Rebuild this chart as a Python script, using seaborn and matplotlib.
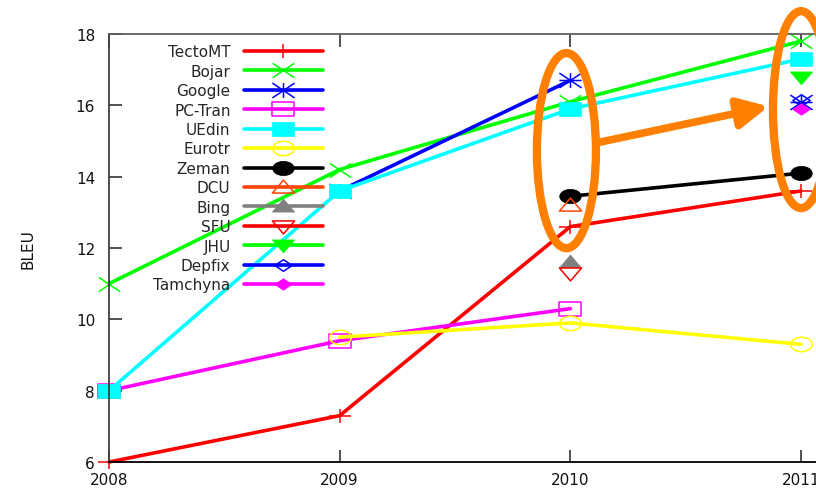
import numpy as np
import matplotlib
matplotlib.use("Agg")
import matplotlib.pyplot as plt
from matplotlib.path import Path
from matplotlib.patches import Ellipse
from matplotlib.transforms import Affine2D
import seaborn as sns

# ---- BLEU scores per system and evaluation year ----
tectomt_years = [2008, 2009, 2010, 2011]
tectomt_bleu = [6.0, 7.3, 12.6, 13.6]
bojar_years = [2008, 2009, 2010, 2011]
bojar_bleu = [11.0, 14.2, 16.1, 17.8]
google_years = [2009, 2010]
google_bleu = [13.6, 16.7]
google_2011_bleu = 16.1          # separate run, not joined to 2010
pctran_years = [2008, 2009, 2010]
pctran_bleu = [8.0, 9.4, 10.3]
uedin_years = [2008, 2009, 2010, 2011]
uedin_bleu = [8.0, 13.6, 15.9, 17.3]
eurotr_years = [2009, 2010, 2011]
eurotr_bleu = [9.5, 9.9, 9.3]
zeman_years = [2010, 2011]
zeman_bleu = [13.45, 14.1]
dcu_years = [2010]
dcu_bleu = [13.2]
bing_years = [2010]
bing_bleu = [11.6]
sfu_years = [2010]
sfu_bleu = [11.3]
jhu_years = [2011]
jhu_bleu = [16.8]
depfix_years = [2011]
depfix_bleu = [16.15]
tamchyna_years = [2011]
tamchyna_bleu = [15.9]

year_ticks = [2008, 2009, 2010, 2011]
bleu_ticks = [6, 8, 10, 12, 14, 16, 18]

# ---- gnuplot-like point shapes (slightly wide) ----
SX = 1.5


def _closed(verts):
    v = np.array(verts + [verts[0]], dtype=float) * [SX, 1]
    codes = [Path.MOVETO] + [Path.LINETO] * (len(verts) - 1) + [Path.CLOSEPOLY]
    return Path(v, codes)


def _segments(segs):
    v, c = [], []
    for a, b in segs:
        v += [a, b]
        c += [Path.MOVETO, Path.LINETO]
    return Path(np.array(v, dtype=float) * [SX, 1], c)


M_PLUS = _segments([((-1, 0), (1, 0)), ((0, -1), (0, 1))])
M_CROSS = _segments([((-1, -1), (1, 1)), ((-1, 1), (1, -1))])
M_STAR = _segments([((-1, 0), (1, 0)), ((0, -1), (0, 1)),
                    ((-1, -1), (1, 1)), ((-1, 1), (1, -1))])
M_SQUARE = _closed([(-1, -1), (1, -1), (1, 1), (-1, 1)])
M_CIRCLE = Affine2D().scale(SX, 1).transform_path(Path.unit_circle())
M_TRI_UP = _closed([(0, 1), (-1, -0.75), (1, -0.75)])
M_TRI_DN = _closed([(0, -1), (1, 0.75), (-1, 0.75)])
M_DIAMOND = _closed([(0, 1), (1, 0), (0, -1), (-1, 0)])

series = [
    ("TectoMT", tectomt_years, tectomt_bleu, "#ff0000", M_PLUS, False, 15.5),
    ("Bojar", bojar_years, bojar_bleu, "#00ff00", M_CROSS, False, 15.5),
    ("Google", google_years, google_bleu, "#0000ff", M_STAR, False, 16),
    ("PC-Tran", pctran_years, pctran_bleu, "#ff00ff", M_SQUARE, False, 15.5),
    ("UEdin", uedin_years, uedin_bleu, "#00ffff", M_SQUARE, True, 15.5),
    ("Eurotr", eurotr_years, eurotr_bleu, "#ffff00", M_CIRCLE, False, 15.5),
    ("Zeman", zeman_years, zeman_bleu, "#000000", M_CIRCLE, True, 15.5),
    ("DCU", dcu_years, dcu_bleu, "#ff4500", M_TRI_UP, False, 16),
    ("Bing", bing_years, bing_bleu, "#808080", M_TRI_UP, True, 16),
    ("SFU", sfu_years, sfu_bleu, "#ff0000", M_TRI_DN, False, 16),
    ("JHU", jhu_years, jhu_bleu, "#00ff00", M_TRI_DN, True, 16),
    ("Depfix", depfix_years, depfix_bleu, "#0000ff", M_DIAMOND, False, 12.5),
    ("Tamchyna", tamchyna_years, tamchyna_bleu, "#ff00ff", M_DIAMOND, True, 12.5),
]

sns.set_style("white")
plt.rcParams["font.family"] = ["DejaVu Sans"]
plt.rcParams["font.size"] = 11

fig = plt.figure(figsize=(8.16, 4.89), dpi=100)
ax = fig.add_axes([109 / 816, 26 / 489, 707 / 816, 428 / 489])

for name, xs, ys, color, marker, filled, ms in series:
    sns.lineplot(
        x=xs, y=ys, ax=ax, color=color, lw=2.6, label=name,
        marker=marker, markersize=ms,
        markerfacecolor=color if filled else "none",
        markeredgecolor=color, markeredgewidth=1.1 if not filled else 0.5,
        errorbar=None, clip_on=False, sort=False,
    )
    if name == "Google":
        sns.lineplot(
            x=[2011], y=[google_2011_bleu], ax=ax, color=color, lw=2.6,
            marker=marker, markersize=ms, markerfacecolor="none",
            markeredgecolor=color, markeredgewidth=1.1,
            errorbar=None, clip_on=False, legend=False,
        )

ax.set_xlim(2008, 2008 + 707 / 230.67)
ax.set_ylim(6, 18)
ax.set_xticks(year_ticks)
ax.set_xticklabels([str(y) for y in year_ticks])
ax.set_yticks(bleu_ticks)
ax.set_yticklabels([str(v) for v in bleu_ticks])
ax.tick_params(axis="both", direction="in", length=9, width=1.2,
               labelsize=11, colors="#333333", labelcolor="#111111")
ax.tick_params(axis="x", bottom=True, top=True, pad=7)
ax.tick_params(axis="y", left=True, right=False, pad=10)
ax.set_xlabel("")
ax.set_ylabel("BLEU", fontsize=11, color="#111111")
ax.yaxis.set_label_coords(-0.104, 0.5)

for side, col in [("left", "#404040"), ("bottom", "#000000"), ("top", "#606060")]:
    ax.spines[side].set_color(col)
    ax.spines[side].set_linewidth(1.3)
ax.spines["right"].set_visible(False)

handles, labels = ax.get_legend_handles_labels()
ax.legend(handles, labels, loc="upper right", bbox_to_anchor=(0.3027, 0.976),
          frameon=False, markerfirst=False, borderpad=0, borderaxespad=0,
          handlelength=5.2, handletextpad=0.85, labelspacing=0.29,
          fontsize=11, numpoints=1)

# ---- highlight: 2010 group, 2011 group and an arrow between them ----
orange = "#ff8000"
ax.add_patch(Ellipse((2009.983, 14.73), width=0.256, height=5.47, fill=False,
                     ec=orange, lw=6, zorder=10, clip_on=False))
ax.add_patch(Ellipse((2011.0, 15.88), width=0.243, height=5.52, fill=False,
                     ec=orange, lw=6, zorder=10, clip_on=False))
ax.annotate("", xy=(2010.86, 15.97), xytext=(2010.13, 14.97),
            arrowprops=dict(arrowstyle="-|>,head_length=0.9,head_width=0.45",
                            mutation_scale=20, lw=5.5, color=orange,
                            shrinkA=0, shrinkB=0),
            zorder=10)

fig.savefig("out.png", dpi=100)
